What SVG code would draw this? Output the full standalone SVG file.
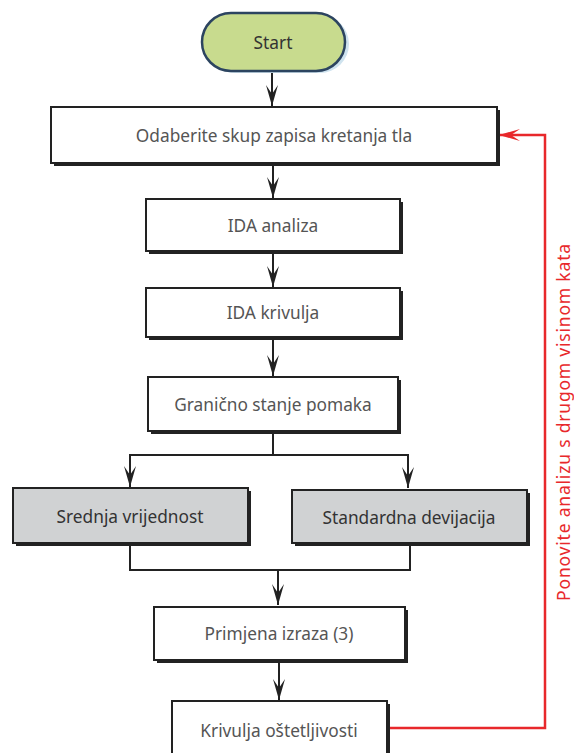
<svg xmlns="http://www.w3.org/2000/svg" width="574" height="753" viewBox="0 0 574 753">
<style>
.box{fill:#fff;stroke:#222;stroke-width:2}
.gray{fill:#d0d2d3}
.sh{fill:#222}
.t{font-family:"Noto Sans","Open Sans",sans-serif;font-size:17.3px;fill:#555;text-anchor:middle;dominant-baseline:central}
.c{fill:none;stroke:#222;stroke-width:2}
.r{fill:none;stroke:#e8282b;stroke-width:2.5}
</style>
<defs>
<marker id="ah" markerUnits="userSpaceOnUse" markerWidth="22" markerHeight="14" viewBox="0 0 22 14" refX="21" refY="7" orient="auto">
<path d="M21,7 L0,1 L9,7 L0,13 Z" fill="#222"/>
</marker>
<marker id="ahr" markerUnits="userSpaceOnUse" markerWidth="22" markerHeight="14" viewBox="0 0 22 14" refX="21" refY="7" orient="auto">
<path d="M21,7 L0,1 L9,7 L0,13 Z" fill="#e8282b"/>
</marker>
</defs>
<rect width="574" height="753" fill="#fff"/>
<g id="connectors">
<path class="c" d="M272,71 V106" marker-end="url(#ah)"/>
<path class="c" d="M273,164 V198" marker-end="url(#ah)"/>
<path class="c" d="M273,252 V287" marker-end="url(#ah)"/>
<path class="c" d="M273,338 V376" marker-end="url(#ah)"/>
<path class="c" d="M273,431 V455 H130 V487" marker-end="url(#ah)"/>
<path class="c" d="M273,455 H408 V488" marker-end="url(#ah)"/>
<path class="c" d="M130,543 V570 H410 V543"/>
<path class="c" d="M278,570 V605" marker-end="url(#ah)"/>
<path class="c" d="M279,661 V700" marker-end="url(#ah)"/>
<path class="r" d="M389,728 H545 V135 H499" marker-end="url(#ahr)"/>
<text x="563" y="422" transform="rotate(-90 563 422)" style="font-family:'Noto Sans','Open Sans',sans-serif;font-size:17.5px;letter-spacing:0.8px;fill:#e8282b;text-anchor:middle;dominant-baseline:central">Ponovite analizu s drugom visinom kata</text>
</g>
<g id="start">
<rect x="206" y="15" width="143" height="58" rx="29" fill="#cfe3ef"/>
<rect x="202" y="13" width="143" height="58" rx="29" fill="#c8db8e" stroke="#2c4460" stroke-width="2.5"/>
<text class="t" x="273" y="42" style="fill:#333">Start</text>
</g>
<g id="odaberite">
<rect class="sh" x="54" y="110" width="446" height="56"/>
<rect class="box" x="51" y="107" width="446" height="56"/>
<text class="t" x="274" y="135">Odaberite skup zapisa kretanja tla</text>
</g>
<g id="ida-analiza">
<rect class="sh" x="149" y="202" width="254" height="52"/>
<rect class="box" x="146" y="199" width="254" height="52"/>
<text class="t" x="273" y="225">IDA analiza</text>
</g>
<g id="ida-krivulja">
<rect class="sh" x="149" y="291" width="254" height="49"/>
<rect class="box" x="146" y="288" width="254" height="49"/>
<text class="t" x="273" y="312">IDA krivulja</text>
</g>
<g id="granicno">
<rect class="sh" x="151" y="380" width="250" height="54"/>
<rect class="box" x="148" y="377" width="250" height="54"/>
<text class="t" x="273" y="404">Granično stanje pomaka</text>
</g>
<g id="srednja">
<rect class="sh" x="16" y="491" width="235" height="55"/>
<rect class="box gray" x="13" y="488" width="235" height="55"/>
<text class="t" x="130" y="516" style="fill:#333">Srednja vrijednost</text>
</g>
<g id="standardna">
<rect class="sh" x="295" y="493" width="235" height="53"/>
<rect class="box gray" x="292" y="490" width="235" height="53"/>
<text class="t" x="409" y="517" style="fill:#333">Standardna devijacija</text>
</g>
<g id="primjena">
<rect class="sh" x="157" y="610" width="251" height="53"/>
<rect class="box" x="154" y="607" width="251" height="53"/>
<text class="t" x="279" y="633">Primjena izraza (3)</text>
</g>
<g id="krivulja">
<rect class="sh" x="175" y="704" width="215" height="60"/>
<rect class="box" x="172" y="701" width="215" height="60"/>
<text class="t" x="279" y="730">Krivulja oštetljivosti</text>
</g>
</svg>
